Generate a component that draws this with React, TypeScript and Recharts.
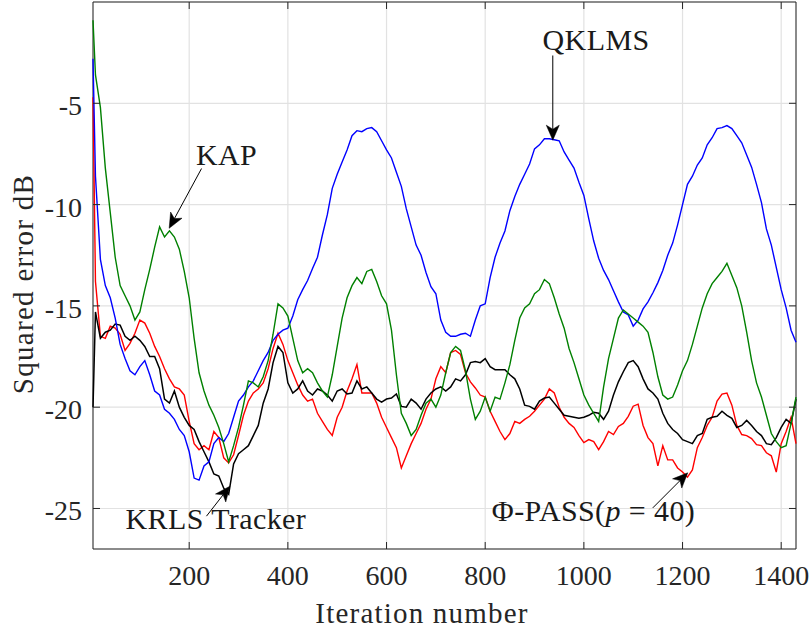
import React from 'react';
import { LineChart, Line, XAxis, YAxis, CartesianGrid, ReferenceLine, ReferenceDot, ReferenceArea } from 'recharts';

// iteration index of every sample
const iterations = [
  5, 10, 20, 30, 40, 50, 60, 70, 80, 90,
  100, 110, 120, 130, 140, 150, 160, 170, 180, 190,
  200, 210, 220, 230, 240, 250, 260, 270, 280, 290,
  300, 310, 320, 330, 340, 350, 360, 370, 380, 390,
  400, 410, 420, 430, 440, 450, 460, 470, 480, 490,
  500, 510, 520, 530, 540, 550, 560, 570, 580, 590,
  600, 610, 620, 630, 640, 650, 660, 670, 680, 690,
  700, 710, 720, 730, 740, 750, 760, 770, 780, 790,
  800, 810, 820, 830, 840, 850, 860, 870, 880, 890,
  900, 910, 920, 930, 940, 950, 960, 970, 980, 990,
  1000, 1010, 1020, 1030, 1040, 1050, 1060, 1070, 1080, 1090,
  1100, 1110, 1120, 1130, 1140, 1150, 1160, 1170, 1180, 1190,
  1200, 1210, 1220, 1230, 1240, 1250, 1260, 1270, 1280, 1290,
  1300, 1310, 1320, 1330, 1340, 1350, 1360, 1370, 1380, 1390,
  1400, 1410, 1420, 1430,
];

// QKLMS (blue)
const qklms = [
  -2.8, -8.6, -12.7, -14.0, -14.6, -15.6, -16.9, -17.6, -18.2, -18.4,
  -18.0, -17.7, -18.4, -19.2, -19.4, -20.1, -20.3, -20.6, -21.1, -21.4,
  -22.2, -23.5, -23.6, -22.9, -22.7, -21.8, -21.5, -21.7, -21.3, -20.5,
  -19.7, -19.4, -19.0, -18.7, -18.2, -17.7, -17.3, -16.7, -16.4, -16.2,
  -16.1, -15.5, -14.7, -14.2, -13.75, -13.15, -12.6, -11.5, -10.5, -9.2,
  -8.5, -7.9, -7.3, -6.6, -6.35, -6.4, -6.25, -6.2, -6.4, -6.85,
  -7.3, -7.7, -8.4, -9.1, -10.2, -11.1, -12.0, -12.5, -13.35, -14.05,
  -14.4, -15.7, -16.3, -16.5, -16.5, -16.4, -16.35, -16.5, -15.7, -15.0,
  -14.9, -13.6, -12.6, -11.9, -11.3, -10.3, -9.6, -9.0, -8.5, -8.0,
  -7.25, -7.05, -6.75, -6.75, -6.8, -6.85, -7.4, -7.8, -8.2, -8.9,
  -9.55, -10.7, -11.8, -12.65, -13.25, -13.7, -14.25, -14.8, -15.3, -15.45,
  -16.0, -15.7, -15.15, -14.8, -14.35, -13.85, -13.25, -12.5, -11.9, -11.0,
  -10.0, -9.0, -8.6, -8.05, -7.7, -7.05, -6.7, -6.25, -6.2, -6.1,
  -6.25, -6.6, -6.95, -7.55, -8.15, -9.0, -9.9, -11.2, -12.0, -13.1,
  -14.2, -15.1, -16.2, -16.8,
];

// KAP (green)
const kap = [
  -0.9, -3.6, -5.2, -8.2, -10.4, -12.6, -14.0, -14.5, -15.0, -15.7,
  -15.3, -14.2, -13.2, -12.1, -11.1, -11.6, -11.3, -11.6, -12.2, -13.3,
  -14.6, -16.6, -18.3, -19.2, -19.9, -20.4, -21.0, -21.8, -22.7, -21.9,
  -21.0, -19.9, -18.7, -18.8, -19.0, -18.5, -17.7, -16.4, -14.9, -15.1,
  -15.5, -16.6, -17.7, -18.3, -18.1, -18.3, -18.8, -19.2, -19.5, -18.4,
  -17.0, -15.6, -14.6, -14.0, -13.6, -13.9, -13.3, -13.2, -13.8, -14.5,
  -14.9, -16.2, -18.4, -20.3, -20.8, -21.4, -21.1, -20.4, -19.8, -19.6,
  -20.0, -19.4, -18.3, -17.3, -17.0, -17.2, -18.2, -19.6, -20.6, -20.2,
  -19.5, -20.2, -19.5, -19.6, -18.8, -17.9, -16.7, -15.6, -15.1, -14.9,
  -14.4, -14.2, -13.7, -13.9, -14.6, -15.4, -16.1, -17.1, -17.8, -18.6,
  -19.4, -19.9, -20.3, -20.7, -19.0, -17.6, -16.6, -15.6, -15.2, -15.4,
  -15.6, -15.8, -16.0, -16.3, -17.3, -18.5, -19.4, -19.6, -19.5, -18.9,
  -18.2, -17.7, -16.9, -16.0, -15.1, -14.4, -13.9, -13.6, -13.3, -12.9,
  -13.5, -14.1, -15.0, -16.3, -17.7, -18.8, -19.5, -20.4, -21.3, -21.7,
  -22.0, -21.9, -20.8, -19.5,
];

// Phi-PASS, p = 40 (red)
const phiPass = [
  -4.7, -13.8, -16.5, -16.6, -16.0, -16.1, -16.4, -17.2, -16.85, -16.35,
  -15.7, -15.85, -16.35, -17.0, -17.5, -18.1, -18.6, -19.0, -19.1, -19.4,
  -20.7, -21.8, -22.1, -21.9, -22.1, -21.2, -21.5, -22.5, -22.75, -22.35,
  -21.4, -20.4, -19.7, -19.3, -19.1, -18.8, -18.1, -17.1, -16.35, -16.9,
  -17.7, -18.3, -18.9, -19.4, -19.7, -19.6, -20.3, -20.7, -21.1, -21.4,
  -20.5, -20.0, -19.2, -18.6, -17.9, -19.3, -19.3, -19.3, -19.8, -20.5,
  -21.0, -21.5, -22.0, -23.0, -22.4, -21.8, -21.3, -20.8, -20.1, -19.6,
  -18.6, -18.0, -18.3, -17.3, -17.2, -17.4, -18.3, -18.75, -19.05, -19.4,
  -19.5, -20.2, -20.7, -21.2, -21.6, -21.3, -20.7, -20.8, -20.6, -20.45,
  -20.2, -19.9, -19.6, -19.1, -19.3, -20.0, -20.5, -20.8, -21.0, -21.4,
  -21.75, -21.6, -21.7, -22.1, -21.7, -21.2, -21.35, -20.95, -20.8, -20.45,
  -19.95, -19.85, -20.9, -21.5, -21.8, -22.9, -21.9, -22.6, -22.6, -23.0,
  -23.2, -23.45, -23.1, -22.0, -21.5, -20.9, -20.5, -19.7, -19.35, -19.3,
  -19.9, -20.9, -21.35, -21.4, -21.55, -21.85, -21.9, -22.25, -22.4, -23.2,
  -21.8, -21.2, -20.5, -21.8,
];

// KRLS Tracker (black)
const krlsTracker = [
  -20.0, -15.3, -16.6, -16.3, -16.2, -15.9, -15.95, -16.5, -16.7, -16.5,
  -16.7, -17.0, -17.5, -17.5, -18.1, -19.6, -19.8, -19.2, -20.0, -20.5,
  -20.9, -21.1, -21.7, -22.2, -22.7, -23.3, -23.4, -24.0, -24.3, -22.8,
  -22.3, -22.1, -21.9, -21.4, -20.9, -19.8, -19.1, -17.8, -17.0, -17.3,
  -18.8, -19.3, -19.1, -18.7, -19.2, -19.4, -19.1, -19.2, -19.4, -19.7,
  -19.2, -19.1, -19.35, -19.3, -18.7, -19.1, -19.0, -19.3, -19.6, -19.75,
  -19.6, -19.55, -19.35, -19.96, -20.0, -19.6, -19.8, -20.1, -19.6, -19.3,
  -19.1, -19.0, -19.2, -19.0, -18.6, -18.7, -18.4, -17.8, -17.75, -17.8,
  -17.6, -18.0, -18.15, -18.15, -18.15, -18.4, -18.6, -19.1, -19.9, -19.96,
  -20.1, -19.7, -19.55, -19.5, -19.8, -20.1, -20.4, -20.45, -20.5, -20.55,
  -20.5, -20.4, -20.25, -20.3, -20.6, -20.2, -19.4, -18.75, -18.25, -17.8,
  -17.7, -18.0, -18.6, -19.1, -19.3, -19.6, -20.3, -20.8, -21.1, -21.3,
  -21.6, -21.7, -21.8, -21.4, -21.3, -20.6, -20.5, -20.45, -20.2, -20.4,
  -20.55, -21.0, -20.9, -20.65, -20.9, -21.2, -21.4, -21.8, -21.85, -21.5,
  -21.0, -20.6, -20.8, -19.6,
];

const xTicks = [200, 400, 600, 800, 1000, 1200, 1400];
const yTicks = [-25, -20, -15, -10, -5];

const data = iterations.map((it, i) => ({
  it,
  qklms: qklms[i],
  kap: kap[i],
  pass: phiPass[i],
  krls: krlsTracker[i],
}));

const W = 812;
const H = 632;
const PLOT_LEFT = 93;
const PLOT_RIGHT = 796;
const PLOT_TOP = 2;
const PLOT_BOTTOM = 549;
const TICK_LEN = 7;

const AXIS = '#262626';
const FONT = "'Liberation Serif', 'Times New Roman', serif";
const FS = 28;
const LABEL_FS = 29;
const NOTE_FS = 30;

const XTick = (props: any) => {
  const { x, payload } = props;
  return (
    <g>
      <line x1={x} x2={x} y1={PLOT_BOTTOM} y2={PLOT_BOTTOM - TICK_LEN} stroke={AXIS} strokeWidth={1} />
      <line x1={x} x2={x} y1={PLOT_TOP} y2={PLOT_TOP + TICK_LEN} stroke={AXIS} strokeWidth={1} />
      <text x={x} y={585} textAnchor="middle" fontFamily={FONT} fontSize={FS} fill={AXIS}>
        {payload.value}
      </text>
    </g>
  );
};

const YTick = (props: any) => {
  const { y, payload } = props;
  return (
    <g>
      <line x1={PLOT_LEFT} x2={PLOT_LEFT + TICK_LEN} y1={y} y2={y} stroke={AXIS} strokeWidth={1} />
      <line x1={PLOT_RIGHT} x2={PLOT_RIGHT - TICK_LEN} y1={y} y2={y} stroke={AXIS} strokeWidth={1} />
      <text x={82} y={y + 12} textAnchor="end" fontFamily={FONT} fontSize={FS} fill={AXIS}>
        {payload.value}
      </text>
    </g>
  );
};

const XLabel = () => (
  <text x={422} y={623} textAnchor="middle" fontFamily={FONT} fontSize={LABEL_FS} letterSpacing={1.2} fill={AXIS}>
    Iteration number
  </text>
);

const YLabel = () => (
  <text
    transform="translate(33,284) rotate(-90)"
    textAnchor="middle"
    fontFamily={FONT}
    fontSize={LABEL_FS}
    letterSpacing={1.3}
    fill={AXIS}
  >
    Squared error dB
  </text>
);

// annotation arrow: tail (x1,y1) -> tip (x2,y2), notched filled head
const Arrow = (props: any) => {
  const { x1, y1, x2, y2 } = props;
  const dx = x2 - x1;
  const dy = y2 - y1;
  const len = Math.hypot(dx, dy) || 1;
  const ux = dx / len;
  const uy = dy / len;
  const nx = -uy;
  const ny = ux;
  const headLen = 15;
  const headW = 6.5;
  const notch = 4;
  const bx = x2 - ux * headLen;
  const by = y2 - uy * headLen;
  const mx = x2 - ux * (headLen - notch);
  const my = y2 - uy * (headLen - notch);
  const pts = [
    `${x2},${y2}`,
    `${bx + nx * headW},${by + ny * headW}`,
    `${mx},${my}`,
    `${bx - nx * headW},${by - ny * headW}`,
  ].join(' ');
  return (
    <g>
      <line x1={x1} y1={y1} x2={mx} y2={my} stroke="#000" strokeWidth={1} />
      <polygon points={pts} fill="#000" stroke="#000" strokeWidth={0.5} />
    </g>
  );
};

const makeText = (content: React.ReactNode) => (p: any) => (
  <text x={p.cx} y={p.cy} textAnchor="middle" fontFamily={FONT} fontSize={NOTE_FS} letterSpacing={0.4} fill="#1a1a1a">
    {content}
  </text>
);

const App: React.FC = () => {
  return (
    <div style={{ position: 'absolute', left: 0, top: 0 }}>
      <LineChart width={W} height={H} data={data} margin={{ top: PLOT_TOP, right: W - PLOT_RIGHT, bottom: 0, left: 0 }}>
        <CartesianGrid stroke="#e2e2e2" strokeWidth={1.2} />
        <XAxis
          dataKey="it"
          type="number"
          domain={[5, 1430]}
          ticks={xTicks}
          interval={0}
          height={H - PLOT_BOTTOM}
          axisLine={false}
          tickLine={false}
          tick={XTick}
          label={<XLabel />}
        />
        <YAxis
          type="number"
          domain={[-27, 0]}
          ticks={yTicks}
          interval={0}
          width={PLOT_LEFT}
          axisLine={false}
          tickLine={false}
          tick={YTick}
          label={<YLabel />}
        />
        <ReferenceArea x1={5} x2={1430} y1={-27} y2={0} fill="none" fillOpacity={0} stroke={AXIS} strokeWidth={1} ifOverflow="visible" />
        <Line type="linear" dataKey="pass" stroke="#ff0000" strokeWidth={1.4} dot={false} activeDot={false} isAnimationActive={false} />
        <Line type="linear" dataKey="krls" stroke="#000000" strokeWidth={1.5} dot={false} activeDot={false} isAnimationActive={false} />
        <Line type="linear" dataKey="qklms" stroke="#0000ff" strokeWidth={1.4} dot={false} activeDot={false} isAnimationActive={false} />
        <Line type="linear" dataKey="kap" stroke="#008000" strokeWidth={1.4} dot={false} activeDot={false} isAnimationActive={false} />

        <ReferenceLine segment={[{ x: 937, y: -2.64 }, { x: 937, y: -6.82 }]} shape={Arrow} ifOverflow="visible" />
        <ReferenceLine segment={[{ x: 225, y: -8.22 }, { x: 159.4, y: -11.17 }]} shape={Arrow} ifOverflow="visible" />
        <ReferenceLine segment={[{ x: 235, y: -25.38 }, { x: 282.4, y: -23.9 }]} shape={Arrow} ifOverflow="visible" />
        <ReferenceLine segment={[{ x: 1139.7, y: -24.97 }, { x: 1210.6, y: -23.24 }]} shape={Arrow} ifOverflow="visible" />

        <ReferenceDot x={1024.7} y={-2.35} r={1} shape={makeText('QKLMS')} ifOverflow="visible" />
        <ReferenceDot x={275.6} y={-8.05} r={1} shape={makeText('KAP')} ifOverflow="visible" />
        <ReferenceDot x={254} y={-26.0} r={1} shape={makeText('KRLS Tracker')} ifOverflow="visible" />
        <ReferenceDot
          x={1019.6}
          y={-25.63}
          r={1}
          shape={makeText(
            <>
              {'Φ-PASS('}
              <tspan fontStyle="italic">p</tspan>
              {' = 40)'}
            </>
          )}
          ifOverflow="visible"
        />
      </LineChart>
    </div>
  );
};

export default App;
